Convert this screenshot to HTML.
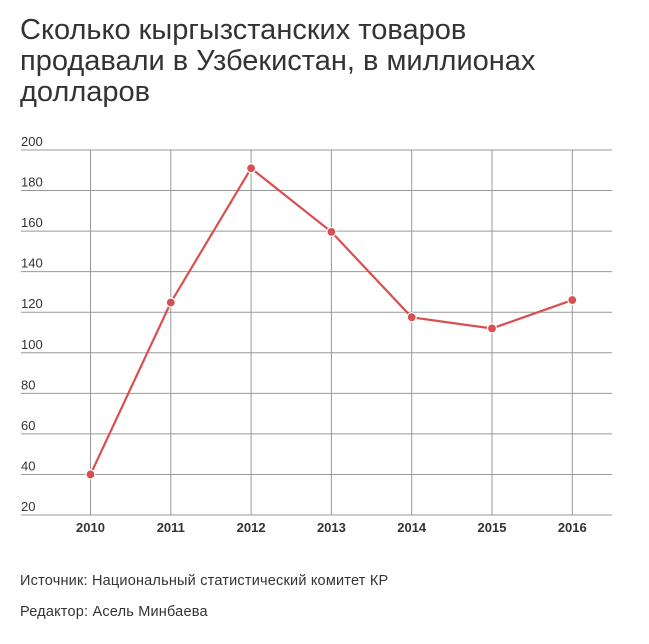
<!DOCTYPE html>
<html><head><meta charset="utf-8"><style>
body{margin:0;background:#fff;width:649px;height:644px;overflow:hidden;font-family:"Liberation Sans",sans-serif}
h1{position:absolute;left:20px;top:15px;margin:0;font-weight:normal;font-size:29px;letter-spacing:0;line-height:31px;color:#333}
.note{position:absolute;left:20px;font-size:14.5px;letter-spacing:0.2px;color:#333}
</style></head><body>
<h1>Сколько кыргызстанских товаров<br>продавали в Узбекистан, в миллионах<br>долларов</h1>
<svg id="c" width="649" height="644" style="position:absolute;left:0;top:0"></svg>
<div class="note" style="top:573px">Источник: Национальный статистический комитет КР</div>
<div class="note" style="top:604px">Редактор: Асель Минбаева</div>
<script>
const years=["2010","2011","2012","2013","2014","2015","2016"];
const values=[40,124.8,191,159.6,117.5,112,126];
const yTicks=[20,40,60,80,100,120,140,160,180,200];
const ns="http://www.w3.org/2000/svg",svg=document.getElementById('c');
const X=i=>90.5+i*80.3, Y=v=>515-(v-20)*2.0278;
function mk(t,a,p){const e=document.createElementNS(ns,t);for(const k in a)e.setAttribute(k,a[k]);(p||svg).appendChild(e);return e;}
yTicks.forEach(v=>{
 const l=mk('line',{x1:21,x2:612,y1:Y(v),y2:Y(v),stroke:'#999','stroke-width':1});
 
 
 const t=mk('text',{x:21,y:Y(v)-4,'font-size':13,fill:'#333','font-family':'Liberation Sans,sans-serif'});t.textContent=v;
 
 
});
years.forEach((y,i)=>{
 const l=mk('line',{x1:X(i),x2:X(i),y1:Y(200),y2:Y(20),stroke:'#999','stroke-width':1});
 
 
 const t=mk('text',{x:X(i),y:532,'font-size':13,'font-weight':'bold',fill:'#333','text-anchor':'middle','font-family':'Liberation Sans,sans-serif'});t.textContent=y;
 
 
});
const p=mk('polyline',{points:values.map((v,i)=>X(i)+','+Y(v)).join(' '),fill:'none',stroke:'#d94f4f','stroke-width':2.2});


values.forEach((v,i)=>{
 const c=mk('circle',{cx:X(i),cy:Y(v),r:4.5,fill:'#d94f4f',stroke:'#fff','stroke-width':1.2});
 
 
});
</script>
</body></html>
